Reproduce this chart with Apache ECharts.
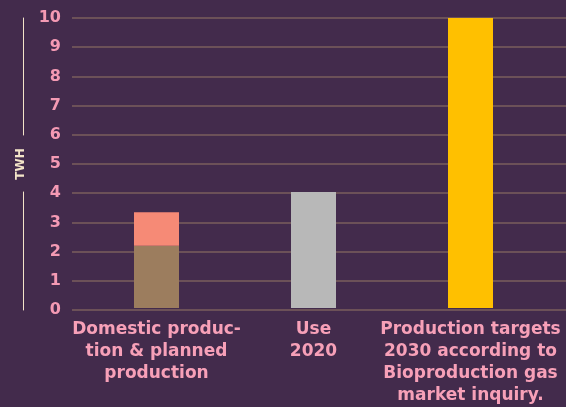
<!DOCTYPE html>
<html><head><meta charset="utf-8">
<script src="https://cdn.jsdelivr.net/npm/echarts@6/dist/echarts.min.js"></script>
<style>html,body{margin:0;padding:0;background:#432b4c;}#c{width:566px;height:407px;}</style>
</head><body><div id="c"></div>
<script>
const categories = ["Domestic produc-\ntion & planned\nproduction", "Use\n2020", "Production targets\n2030 according to\nBioproduction gas\nmarket inquiry."];
const domestic = [2.15, null, null];
const planned = [1.15, null, null];
const use2020 = [null, 4, null];
const targets = [null, null, 10];
const yTicks = [0, 10, 1];

const chart = echarts.init(document.getElementById('c'));
const font = 'DejaVu Sans';
chart.setOption({
  backgroundColor: '#432b4c',
  animation: false,
  grid: [
    {left: 72, right: 0, top: 18, bottom: 97},
    {left: 78, right: 17, top: 18, bottom: 97}
  ],
  xAxis: [
    {gridIndex: 0, type: 'value', min: 0, max: 1, show: false},
    {gridIndex: 1, type: 'category', data: categories,
     axisLine: {show: false}, axisTick: {show: false},
     axisLabel: {color: '#f7a0b8', fontFamily: font, fontWeight: 'bold', fontSize: 17, lineHeight: 22, margin: 11, interval: 0, align: 'center'}}
  ],
  yAxis: [
    {gridIndex: 0, type: 'value', min: yTicks[0], max: yTicks[1], interval: yTicks[2],
     axisLine: {show: false}, axisTick: {show: false},
     axisLabel: {color: '#f49ab4', fontFamily: font, fontWeight: 'bold', fontSize: 16, margin: 11},
     splitLine: {lineStyle: {color: '#7a5f5c', width: 1.5}}},
    {gridIndex: 0, type: 'value', min: yTicks[0], max: yTicks[1], position: 'left', offset: 49,
     axisLine: {show: true, lineStyle: {color: '#f3e4c8', width: 1, type: [118, 57, 400]}},
     axisTick: {show: false}, axisLabel: {show: false}, splitLine: {show: false},
     name: 'TWH', nameLocation: 'middle', nameGap: -4, nameRotate: 90,
     nameTextStyle: {color: '#f3e4c8', fontFamily: font, fontWeight: 'bold', fontSize: 12}},
    {gridIndex: 1, type: 'value', min: yTicks[0], max: yTicks[1], show: false}
  ],
  series: [
    {type: 'bar', xAxisIndex: 1, yAxisIndex: 2, stack: 'a', data: domestic, barWidth: 45, itemStyle: {color: '#9c7d5e'}},
    {type: 'bar', xAxisIndex: 1, yAxisIndex: 2, stack: 'a', data: planned, barWidth: 45, itemStyle: {color: '#f68a76'}},
    {type: 'bar', xAxisIndex: 1, yAxisIndex: 2, stack: 'a', data: use2020, barWidth: 45, itemStyle: {color: '#b8b8b8'}},
    {type: 'bar', xAxisIndex: 1, yAxisIndex: 2, stack: 'a', data: targets, barWidth: 45, itemStyle: {color: '#ffc000'}}
  ]
});
</script></body></html>
